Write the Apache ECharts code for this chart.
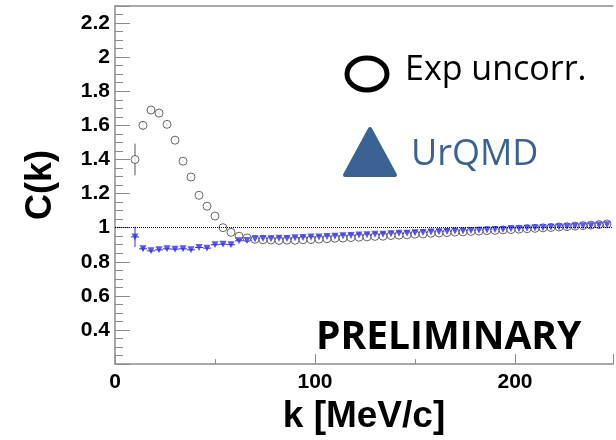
<!DOCTYPE html>
<html>
<head>
<meta charset="utf-8">
<style>
  html, body { margin: 0; padding: 0; background: #fff; }
  #main { width: 616px; height: 440px; }
</style>
<script src="https://cdn.jsdelivr.net/npm/echarts@6/dist/echarts.min.js"></script>
</head>
<body>
<div id="main"></div>
<script>
// k bin centres [MeV/c]
const kValues = [10, 14, 18, 22, 26, 30, 34, 38, 42, 46, 50, 54, 58, 62, 66, 70, 74, 78, 82, 86,
  90, 94, 98, 102, 106, 110, 114, 118, 122, 126, 130, 134, 138, 142, 146, 150, 154, 158, 162, 166,
  170, 174, 178, 182, 186, 190, 194, 198, 202, 206, 210, 214, 218, 222, 226, 230, 234, 238, 242, 246]

// Exp uncorr. C(k)
const expValues = [1.400, 1.600, 1.690, 1.672, 1.606, 1.513, 1.390, 1.297, 1.190, 1.126,
  1.068, 1.000, 0.973, 0.950, 0.940, 0.932, 0.929, 0.928, 0.925, 0.927,
  0.926, 0.929, 0.930, 0.933, 0.935, 0.938, 0.939, 0.942, 0.944, 0.946,
  0.949, 0.950, 0.954, 0.956, 0.958, 0.962, 0.963, 0.967, 0.969, 0.971,
  0.974, 0.975, 0.978, 0.980, 0.983, 0.984, 0.987, 0.989, 0.991, 0.994,
  0.996, 0.999, 1.001, 1.004, 1.006, 1.009, 1.012, 1.015, 1.018, 1.022]
const expErrors = [0.093, 0.025, 0.014, 0.012, 0.010, 0.008, 0.007, 0.006, 0.006, 0.005,
  0.005, 0.005, 0.004, 0.004, 0.004, 0.004, 0.004, 0.004, 0.004, 0.004,
  0.004, 0.004, 0.004, 0.004, 0.004, 0.004, 0.004, 0.004, 0.004, 0.004,
  0.004, 0.004, 0.004, 0.004, 0.004, 0.004, 0.004, 0.004, 0.004, 0.004,
  0.004, 0.004, 0.004, 0.004, 0.004, 0.004, 0.004, 0.004, 0.004, 0.004,
  0.004, 0.004, 0.004, 0.004, 0.004, 0.004, 0.004, 0.004, 0.004, 0.004]

// UrQMD C(k)
const urqmdValues = [0.946, 0.876, 0.864, 0.870, 0.876, 0.874, 0.876, 0.870, 0.884, 0.880,
  0.900, 0.903, 0.900, 0.923, 0.925, 0.934, 0.936, 0.935, 0.938, 0.937,
  0.941, 0.942, 0.945, 0.946, 0.949, 0.950, 0.953, 0.954, 0.957, 0.958,
  0.961, 0.962, 0.964, 0.967, 0.968, 0.971, 0.972, 0.975, 0.976, 0.978,
  0.980, 0.981, 0.984, 0.985, 0.987, 0.989, 0.990, 0.993, 0.994, 0.996,
  0.998, 1.000, 1.002, 1.004, 1.006, 1.008, 1.010, 1.012, 1.014, 1.017]
const urqmdErrors = [0.060, 0.012, 0.008, 0.006, 0.006, 0.005, 0.005, 0.005, 0.004, 0.004,
  0.004, 0.004, 0.004, 0.004, 0.004, 0.004, 0.004, 0.004, 0.004, 0.004,
  0.004, 0.004, 0.004, 0.004, 0.004, 0.004, 0.004, 0.004, 0.004, 0.004,
  0.004, 0.004, 0.004, 0.004, 0.004, 0.004, 0.004, 0.004, 0.004, 0.004,
  0.004, 0.004, 0.004, 0.004, 0.004, 0.004, 0.004, 0.004, 0.004, 0.004,
  0.004, 0.004, 0.004, 0.004, 0.004, 0.004, 0.004, 0.004, 0.004, 0.004]

const binHalfWidth = 2
const yTickLabels = ['0.4', '0.6', '0.8', '1', '1.2', '1.4', '1.6', '1.8', '2', '2.2']
const xTickLabels = ['0', '100', '200']

const axisGrey = '#8c8c8c'
const urqmdBlue = '#2f2fff'
const legendBlue = '#3a6394'
const labelFont = 'Liberation Sans'

const expPoints = kValues.map((k, i) => [k, expValues[i], expErrors[i]])
const urqmdPoints = kValues.map((k, i) => [k, urqmdValues[i], urqmdErrors[i]])

// vertical (and optionally horizontal) error bars
function errorBars(color, withX) {
  return function(params, api) {
    const x = api.value(0)
    const y = api.value(1)
    const e = api.value(2)
    const lo = api.coord([x, y - e])
    const hi = api.coord([x, y + e])
    const children = [{
      type: 'line',
      shape: { x1: lo[0], y1: lo[1], x2: hi[0], y2: hi[1] },
      style: { stroke: color, lineWidth: 1 }
    }]
    if (withX) {
      const l = api.coord([x - binHalfWidth, y])
      const r = api.coord([x + binHalfWidth, y])
      children.push({
        type: 'line',
        shape: { x1: l[0], y1: l[1], x2: r[0], y2: r[1] },
        style: { stroke: color, lineWidth: 1 }
      })
    }
    return { type: 'group', children: children }
  }
}

const myChart = echarts.init(document.getElementById('main'))
myChart.setOption({
  animation: false,
  backgroundColor: '#fff',
  grid: { left: 115, right: 0, top: 6, bottom: 72 },
  xAxis: [
    {
      type: 'value',
      min: 0,
      max: 249,
      interval: 100,
      name: 'k [MeV/c]',
      nameLocation: 'middle',
      nameGap: 24,
      nameTextStyle: { fontFamily: labelFont, fontWeight: 'bold', fontSize: 37, color: '#000' },
      axisLine: { lineStyle: { color: axisGrey, width: 1.5 } },
      axisTick: { inside: true, length: 10, lineStyle: { color: axisGrey } },
      minorTick: { show: true, splitNumber: 2, length: 5, lineStyle: { color: axisGrey } },
      splitLine: { show: false },
      axisLabel: {
        margin: 8,
        fontFamily: labelFont,
        fontWeight: 'bold',
        fontSize: 21,
        color: '#000',
        formatter: (v) => xTickLabels.indexOf(String(v)) >= 0 ? String(v) : ''
      }
    },
    {
      type: 'value',
      position: 'top',
      min: 0,
      max: 249,
      axisLine: { show: true, onZero: false, lineStyle: { color: axisGrey, width: 1.5 } },
      axisTick: { show: false },
      axisLabel: { show: false },
      splitLine: { show: false }
    }
  ],
  yAxis: {
    type: 'value',
    min: 0.2,
    max: 2.3,
    interval: 0.2,
    name: 'C(k)',
    nameLocation: 'middle',
    nameGap: 56,
    nameTextStyle: { fontFamily: labelFont, fontWeight: 'bold', fontSize: 36, color: '#000' },
    axisLine: { show: true, lineStyle: { color: axisGrey, width: 1.5 } },
    axisTick: { inside: true, length: 15, lineStyle: { color: axisGrey } },
    minorTick: { show: true, splitNumber: 4, length: 8, lineStyle: { color: axisGrey } },
    splitLine: { show: false },
    axisLabel: {
      margin: 5,
      fontFamily: labelFont,
      fontWeight: 'bold',
      fontSize: 21,
      color: '#000',
      formatter: (v) => {
        const s = String(parseFloat(v.toFixed(1)))
        return yTickLabels.indexOf(s) >= 0 ? s : ''
      }
    }
  },
  series: [
    {
      name: 'Exp uncorr. errors',
      type: 'custom',
      renderItem: errorBars('#555', false),
      data: expPoints,
      clip: true,
      z: 2
    },
    {
      name: 'UrQMD errors',
      type: 'custom',
      renderItem: errorBars(urqmdBlue, true),
      data: urqmdPoints,
      clip: true,
      z: 2
    },
    {
      name: 'Exp uncorr.',
      type: 'scatter',
      data: expPoints,
      symbol: 'circle',
      symbolSize: 8,
      itemStyle: { color: '#fff', borderColor: '#444', borderWidth: 1 },
      clip: true,
      z: 3,
      markLine: {
        silent: true,
        symbol: 'none',
        label: { show: false },
        lineStyle: { type: 'dotted', color: '#000', width: 1 },
        data: [{ yAxis: 1 }]
      }
    },
    {
      name: 'UrQMD',
      type: 'scatter',
      data: urqmdPoints,
      symbol: 'triangle',
      symbolRotate: 180,
      symbolSize: 7,
      itemStyle: { color: urqmdBlue },
      clip: true,
      z: 4
    }
  ],
  graphic: [
    {
      type: 'ellipse',
      shape: { cx: 367, cy: 74, rx: 20, ry: 16 },
      style: { fill: 'none', stroke: '#000', lineWidth: 5 }
    },
    {
      type: 'text',
      x: 405,
      y: 70,
      style: { text: 'Exp uncorr.', fontFamily: 'Open Sans', fontSize: 34, fill: '#000', verticalAlign: 'middle' }
    },
    {
      type: 'polygon',
      shape: { points: [[370, 129], [395, 175], [345, 175]] },
      style: { fill: legendBlue, stroke: legendBlue, lineWidth: 4, lineJoin: 'round' }
    },
    {
      type: 'text',
      x: 411,
      y: 155,
      style: { text: 'UrQMD', fontFamily: 'Open Sans', fontSize: 36, fill: legendBlue, verticalAlign: 'middle' }
    },
    {
      type: 'text',
      x: 316,
      y: 338,
      style: { text: 'PRELIMINARY', fontFamily: 'Open Sans', fontWeight: 'bold', fontSize: 39, fill: '#000', verticalAlign: 'middle' }
    }
  ]
})
window.addEventListener('resize', function() {
  myChart.resize()
})
</script>
</body>
</html>
